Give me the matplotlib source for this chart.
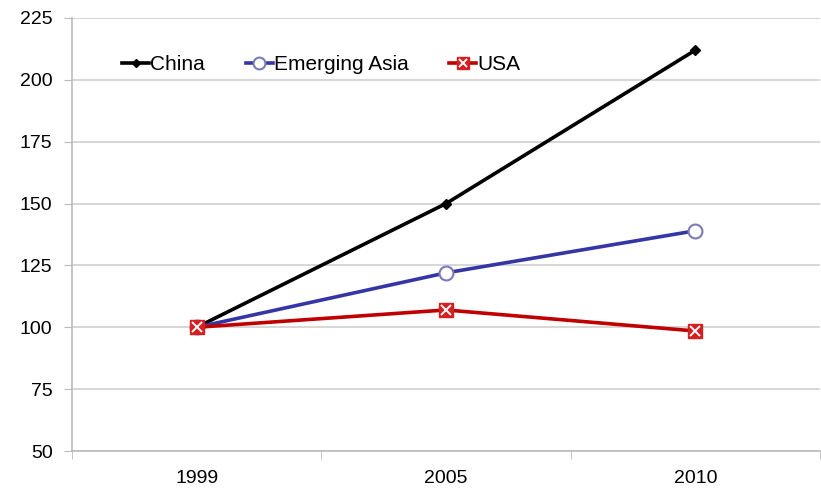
import matplotlib
matplotlib.use("Agg")
from matplotlib import pyplot as plt
from matplotlib.legend_handler import HandlerTuple
import numpy as np

# Index values (1999 = 100)
years = ["1999", "2005", "2010"]
china = [100, 150, 212]
emergingAsia = [100, 122, 139]
usa = [100, 107, 98.5]

plt.rcParams['font.family'] = ['Liberation Sans', 'DejaVu Sans']

fig = plt.figure(figsize=(8.21, 4.95), dpi=100)
ax = fig.add_axes([72/821, 1 - 451/495, 748/821, (451 - 18)/495])

x = np.arange(len(years))
lChina, = ax.plot(x, china, color="black", lw=2.6, marker="D", ms=5, mfc="black",
                  mec="black", zorder=3)
lAsia, = ax.plot(x, emergingAsia, color="#3535a5", lw=2.6, marker="o", ms=10, mfc="white",
                 mec="#7a7ab8", mew=1.5, zorder=3)
lUsa, = ax.plot(x, usa, color="#c00000", lw=2.6, marker="s", ms=10, mfc="#d42020",
                mec="#d42020", zorder=3)
# white cross drawn over the red squares
lUsaX, = ax.plot(x, usa, ls="none", marker="x", ms=7, mec="white", mew=1.4, zorder=3.1)

ax.set_xlim(-0.5, len(years) - 0.5)
ax.set_ylim(50, 225)
ax.set_yticks(np.arange(50, 226, 25))
ax.set_xticks(x)
ax.set_xticklabels(years)
ax.set_xticks(np.arange(-0.5, len(years), 1.0), minor=True)
ax.tick_params(axis="x", which="major", length=0, pad=14, labelsize=14)
ax.tick_params(axis="x", which="minor", length=6, color="#bbbbbb")
ax.tick_params(axis="y", length=6, color="#bbbbbb", labelsize=14, pad=8)

ax.grid(axis="y", color="#d0d0d0", lw=1.2)
ax.set_axisbelow(True)
for side in ["top", "right"]:
    ax.spines[side].set_visible(False)
for side in ["left", "bottom"]:
    ax.spines[side].set_color("#bbbbbb")
    ax.spines[side].set_linewidth(1.2)

leg = ax.legend(handles=[lChina, lAsia, (lUsa, lUsaX)],
                labels=["China", "Emerging Asia", "USA"],
                handler_map={tuple: HandlerTuple(ndivide=1)},
                loc="upper left", bbox_to_anchor=(0.042, 0.958), ncol=3, frameon=False,
                fontsize=15, handlelength=1.3, handletextpad=0.05, columnspacing=1.95,
                markerscale=0.85)

fig.savefig("out.png", dpi=100)
